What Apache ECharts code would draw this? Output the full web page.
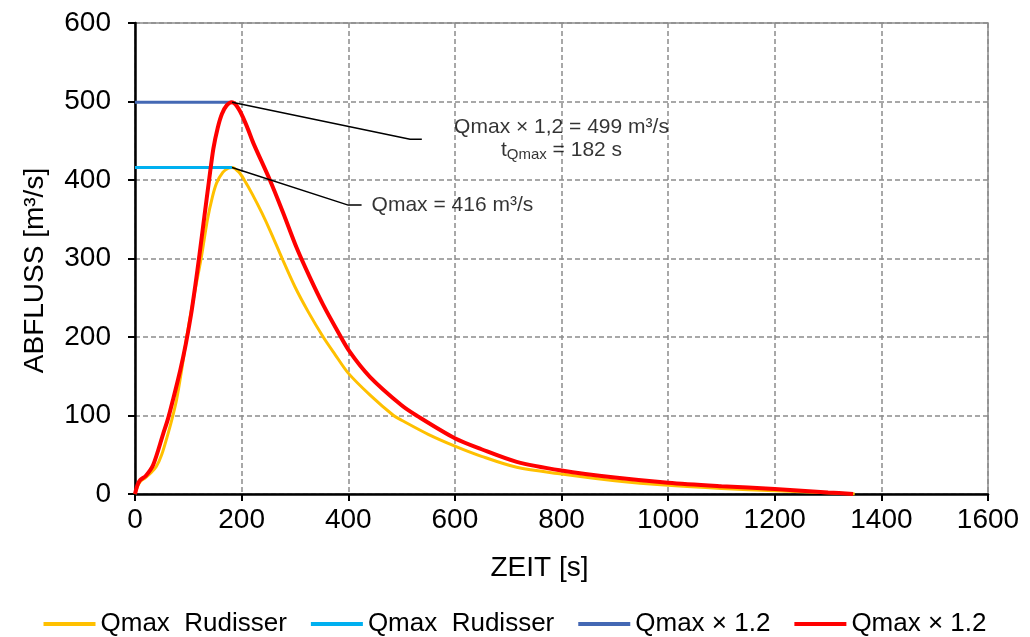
<!DOCTYPE html>
<html><head><meta charset="utf-8">
<script src="https://cdn.jsdelivr.net/npm/echarts@6/dist/echarts.min.js"></script>
<style>html,body{margin:0;padding:0;background:#fff}#c{width:1030px;height:637px}</style>
</head><body><div id="c"></div><script>
// ---- data ----
const legendLabels = ['Qmax  Rudisser', 'Qmax  Rudisser', 'Qmax × 1.2', 'Qmax × 1.2'];
const seriesNames = ['Ganglinie Rudisser', 'Spitze Rudisser', 'Spitze ×1.2', 'Ganglinie ×1.2'];
const seriesColors = ['#FFC000', '#00B0F0', '#4468B4', '#FF0000'];

const timeRudisser = [0, 5, 10, 20, 30, 40, 50, 62, 70, 78, 88, 97, 110, 124, 136, 145, 153, 165, 175, 182, 195, 205, 220, 238, 255, 276, 300, 325, 353, 375, 400, 441, 485, 500, 550, 600, 650, 716, 800, 900, 1000, 1100, 1200, 1300, 1350];
const flowRudisser = [0, 10, 16, 21, 27, 35, 50, 77, 97, 120, 160, 200, 250, 300, 350, 378, 396, 410, 415, 416, 410, 400, 382, 358, 333, 300, 264, 232, 200, 178, 154, 126, 100, 94, 76, 61, 48, 34, 25.5, 17, 11, 7, 4.2, 1.5, 0];

const timeScaled = [0, 5, 10, 20, 34, 53, 62, 72, 85, 95, 105, 113, 121, 130, 139, 147, 155, 163, 172, 182, 195, 210, 222, 253, 278, 303, 328, 353, 378, 403, 441, 500, 528, 600, 650, 716, 800, 900, 1000, 1100, 1200, 1300, 1347];
const flowScaled = [0, 12, 18, 23, 37, 77, 96, 122, 158, 190, 228, 265, 305, 353, 400, 440, 466, 484, 495, 499, 490, 468, 447, 400, 358, 314, 276, 241, 210, 181, 149, 113, 100, 71, 57, 41, 30, 21, 14.4, 10, 6.4, 2, 0];

const peakTimeRudisser = [0, 182];
const peakFlowRudisser = [416, 416];
const peakTimeScaled = [0, 182];
const peakFlowScaled = [499, 499];

const leaderScaledTime = [182, 516, 538];
const leaderScaledFlow = [499, 452, 452];
const leaderRudisserTime = [182, 400, 425];
const leaderRudisserFlow = [416, 368, 368];

const noteScaledAt = [800, 452];
const noteRudisserAt = [425, 368];

const pairs = (xs, ys) => xs.map((x, i) => [x, ys[i]]);
const FONT = '"Liberation Sans", Arial, sans-serif';

const chart = echarts.init(document.getElementById('c'), null, {renderer: 'canvas'});
const lineSeries = (idx, xs, ys, width, smooth) => ({
  name: seriesNames[idx], type: 'line', data: pairs(xs, ys), symbol: 'none',
  smooth: smooth ? 0.3 : false,
  lineStyle: {color: seriesColors[idx], width: width}, itemStyle: {color: seriesColors[idx]},
  z: 2 + idx, animation: false
});
const leader = (xs, ys) => ({
  type: 'line', data: pairs(xs, ys), symbol: 'none', silent: true,
  lineStyle: {color: '#000', width: 1.5}, z: 10, animation: false
});

chart.setOption({
  backgroundColor: '#fff',
  animation: false,
  textStyle: {fontFamily: FONT},
  grid: {left: 135, right: 42, top: 23, bottom: 143, show: true, borderColor: '#8c8c8c', borderWidth: 1.5, backgroundColor: 'transparent'},
  legend: {
    data: seriesNames.map(n => ({name: n, icon: 'rect'})),
    formatter: n => legendLabels[seriesNames.indexOf(n)],
    left: 'center', top: 606, itemWidth: 52, itemHeight: 4, itemGap: 24,
    textStyle: {fontSize: 26, color: '#000', fontFamily: FONT}
  },
  xAxis: {
    type: 'value', min: 0, max: 1600, interval: 200,
    name: 'ZEIT [s]', nameLocation: 'middle', nameGap: 60,
    nameTextStyle: {fontSize: 28, color: '#000', fontFamily: FONT, padding: [0, 44, 0, 0]},
    axisLine: {show: true, onZero: false, lineStyle: {color: '#000', width: 2.5}},
    axisTick: {show: true, length: 7, lineStyle: {color: '#000', width: 2}},
    axisLabel: {fontSize: 28, color: '#000', margin: 12, fontFamily: FONT, formatter: v => String(v)},
    splitLine: {show: true, lineStyle: {color: '#8c8c8c', width: 1.5, type: [5, 3]}}
  },
  yAxis: {
    type: 'value', min: 0, max: 600, interval: 100,
    name: 'ABFLUSS [m³/s]', nameLocation: 'middle', nameGap: 86, nameRotate: 90,
    nameTextStyle: {fontSize: 28, color: '#000', fontFamily: FONT, padding: [0, 24, 0, 0]},
    axisLine: {show: true, lineStyle: {color: '#000', width: 2.5}},
    axisTick: {show: true, length: 7, lineStyle: {color: '#000', width: 2}},
    axisLabel: {fontSize: 28, color: '#000', margin: 24, fontFamily: FONT, formatter: v => String(v)},
    splitLine: {show: true, lineStyle: {color: '#8c8c8c', width: 1.5, type: [5, 3]}}
  },
  series: [
    lineSeries(0, timeRudisser, flowRudisser, 3, true),
    lineSeries(1, peakTimeRudisser, peakFlowRudisser, 3, false),
    lineSeries(2, peakTimeScaled, peakFlowScaled, 3, false),
    lineSeries(3, timeScaled, flowScaled, 4, true),
    leader(leaderScaledTime, leaderScaledFlow),
    leader(leaderRudisserTime, leaderRudisserFlow),
    {
      type: 'scatter', silent: true, symbolSize: 0, z: 11,
      data: [noteScaledAt],
      label: {
        show: true, position: 'inside', align: 'center', verticalAlign: 'middle', color: '#000',
        formatter: '{a|Qmax × 1,2 = 499 m³/s}\n{b|t}{s|Qmax}{b| = 182 s}',
        rich: {
          a: {fontSize: 21, lineHeight: 22, color: '#000', align: 'center', fontFamily: FONT},
          b: {fontSize: 21, lineHeight: 24, color: '#000', align: 'center', fontFamily: FONT},
          s: {fontSize: 15, lineHeight: 10, color: '#000', align: 'center', verticalAlign: 'bottom', fontFamily: FONT}
        }
      }
    },
    {
      type: 'scatter', silent: true, symbolSize: 0, z: 11,
      data: [noteRudisserAt],
      label: {
        show: true, position: 'right', distance: 10,
        formatter: 'Qmax = 416 m³/s', fontSize: 21, color: '#000', fontFamily: FONT
      }
    }
  ]
});
</script></body></html>
